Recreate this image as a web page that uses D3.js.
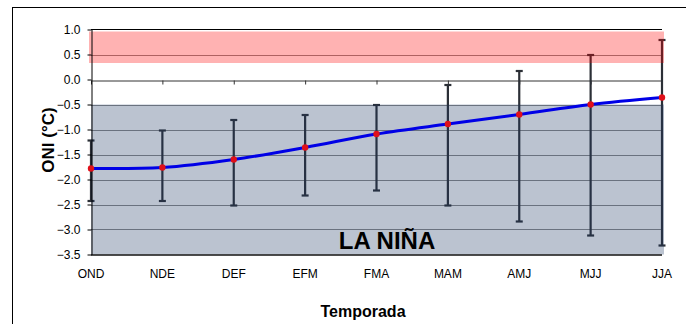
<!DOCTYPE html>
<html>
<head>
<meta charset="utf-8">
<script src="https://cdn.jsdelivr.net/npm/d3@7"></script>
<style>
  body { margin: 0; background: #fff; }
  text { font-family: "Liberation Sans", Arial, sans-serif; }
</style>
</head>
<body>
<div id="chart"></div>
<script>
// data
const seasons = ["OND", "NDE", "DEF", "EFM", "FMA", "MAM", "AMJ", "MJJ", "JJA"];
const oniMean = [-1.78, -1.76, -1.60, -1.36, -1.09, -0.89, -0.70, -0.50, -0.36];
const oniHigh = [-1.22, -1.02, -0.81, -0.71, -0.51, -0.11, 0.17, 0.49, 0.79];
const oniLow = [-2.43, -2.43, -2.52, -2.32, -2.22, -2.52, -2.84, -3.12, -3.32];
const yTicks = [1.0, 0.5, 0.0, -0.5, -1.0, -1.5, -2.0, -2.5, -3.0, -3.5];
const ninoBand = [0.33, 0.96];
const ninaBand = [-3.5, -0.5];

const W = 686, H = 324;
const svg = d3.select("#chart").append("svg")
  .attr("width", W)
  .attr("height", H);

// outer frame
svg.append("rect")
  .attr("x", 12.5).attr("y", 7.5)
  .attr("width", 690).attr("height", 340)
  .attr("fill", "none")
  .attr("stroke", "#000")
  .attr("stroke-width", 1);

const x = d3.scalePoint()
  .domain(seasons)
  .range([91, 662]);

const y = d3.scaleLinear()
  .domain([-3.5, 1.0])
  .range([254.5, 29.5]);

const g = svg.append("g");

// gridlines
g.selectAll(".grid")
  .data(yTicks.filter(d => d !== 0 && d !== 1 && d !== -3.5))
  .join("line")
  .attr("class", "grid")
  .attr("x1", 91).attr("x2", 662)
  .attr("y1", d => Math.round(y(d)) + 0.5)
  .attr("y2", d => Math.round(y(d)) + 0.5)
  .attr("stroke", "#8c8c8c")
  .attr("stroke-width", 1);

// category axis crossing at 0
g.append("g")
  .attr("transform", `translate(0,${Math.round(y(0)) + 0.5})`)
  .call(d3.axisBottom(x).tickSize(4).tickSizeOuter(0).tickFormat(""))
  .call(a => a.select(".domain").attr("stroke", "#333"))
  .call(a => a.selectAll(".tick line").attr("stroke", "#333"));

// error bars
const bars = g.selectAll(".err")
  .data(seasons)
  .join("g")
  .attr("class", "err")
  .attr("stroke", "#2b2f36")
  .attr("stroke-width", 2.2);

bars.append("line")
  .attr("x1", d => x(d)).attr("x2", d => x(d))
  .attr("y1", (d, i) => y(oniHigh[i]))
  .attr("y2", (d, i) => y(oniLow[i]));
bars.append("line")
  .attr("x1", d => x(d) - 3.5).attr("x2", d => x(d) + 3.5)
  .attr("y1", (d, i) => y(oniHigh[i]))
  .attr("y2", (d, i) => y(oniHigh[i]));
bars.append("line")
  .attr("x1", d => x(d) - 3.5).attr("x2", d => x(d) + 3.5)
  .attr("y1", (d, i) => y(oniLow[i]))
  .attr("y2", (d, i) => y(oniLow[i]));

// shaded El Niño / La Niña bands
g.append("rect")
  .attr("x", 89).attr("width", 575)
  .attr("y", y(ninoBand[1]))
  .attr("height", y(ninoBand[0]) - y(ninoBand[1]))
  .attr("fill", "#ff0000")
  .attr("fill-opacity", 0.3);

g.append("rect")
  .attr("x", 91).attr("width", 573)
  .attr("y", y(ninaBand[1]))
  .attr("height", y(ninaBand[0]) - y(ninaBand[1]))
  .attr("fill", "#1f3864")
  .attr("fill-opacity", 0.3);

// plot frame: top and bottom
g.append("line")
  .attr("x1", 91).attr("x2", 662)
  .attr("y1", 29.5).attr("y2", 29.5)
  .attr("stroke", "#000");
g.append("line")
  .attr("x1", 91).attr("x2", 662)
  .attr("y1", 255).attr("y2", 255)
  .attr("stroke", "#111")
  .attr("stroke-width", 1.5);

// value axis
g.append("g")
  .attr("transform", "translate(91.5,0)")
  .call(d3.axisLeft(y).tickValues(yTicks).tickSize(4).tickSizeOuter(0).tickFormat(d3.format(".1f")))
  .call(a => a.select(".domain").attr("stroke", "#000"))
  .call(a => a.selectAll(".tick line").attr("stroke", "#000"))
  .call(a => a.selectAll(".tick text")
    .attr("x", -11)
    .attr("font-size", 12)
    .attr("font-family", "Liberation Sans, Arial, sans-serif")
    .attr("fill", "#000"));

// category labels along the bottom
g.selectAll(".xlab")
  .data(seasons)
  .join("text")
  .attr("class", "xlab")
  .attr("x", d => x(d))
  .attr("y", 278)
  .attr("text-anchor", "middle")
  .attr("font-size", 12)
  .text(d => d);

// mean line
const line = d3.line()
  .x((d, i) => x(seasons[i]))
  .y(d => y(d))
  .curve(d3.curveCatmullRom.alpha(0.5));

g.append("path")
  .datum(oniMean)
  .attr("fill", "none")
  .attr("stroke", "#0000e6")
  .attr("stroke-width", 3)
  .attr("d", line);

g.selectAll(".pt")
  .data(oniMean)
  .join("circle")
  .attr("class", "pt")
  .attr("cx", (d, i) => x(seasons[i]))
  .attr("cy", d => y(d))
  .attr("r", 3.2)
  .attr("fill", "#e0101a");

// labels
svg.append("text")
  .attr("transform", "translate(54,140) rotate(-90)")
  .attr("text-anchor", "middle")
  .attr("font-size", 17)
  .attr("font-weight", "bold")
  .text("ONI (°C)");

svg.append("text")
  .attr("x", 363)
  .attr("y", 317)
  .attr("text-anchor", "middle")
  .attr("font-size", 16)
  .attr("font-weight", "bold")
  .text("Temporada");

svg.append("text")
  .attr("x", 387)
  .attr("y", 249)
  .attr("text-anchor", "middle")
  .attr("font-size", 24)
  .attr("font-weight", "bold")
  .text("LA NIÑA");
</script>
</body>
</html>
